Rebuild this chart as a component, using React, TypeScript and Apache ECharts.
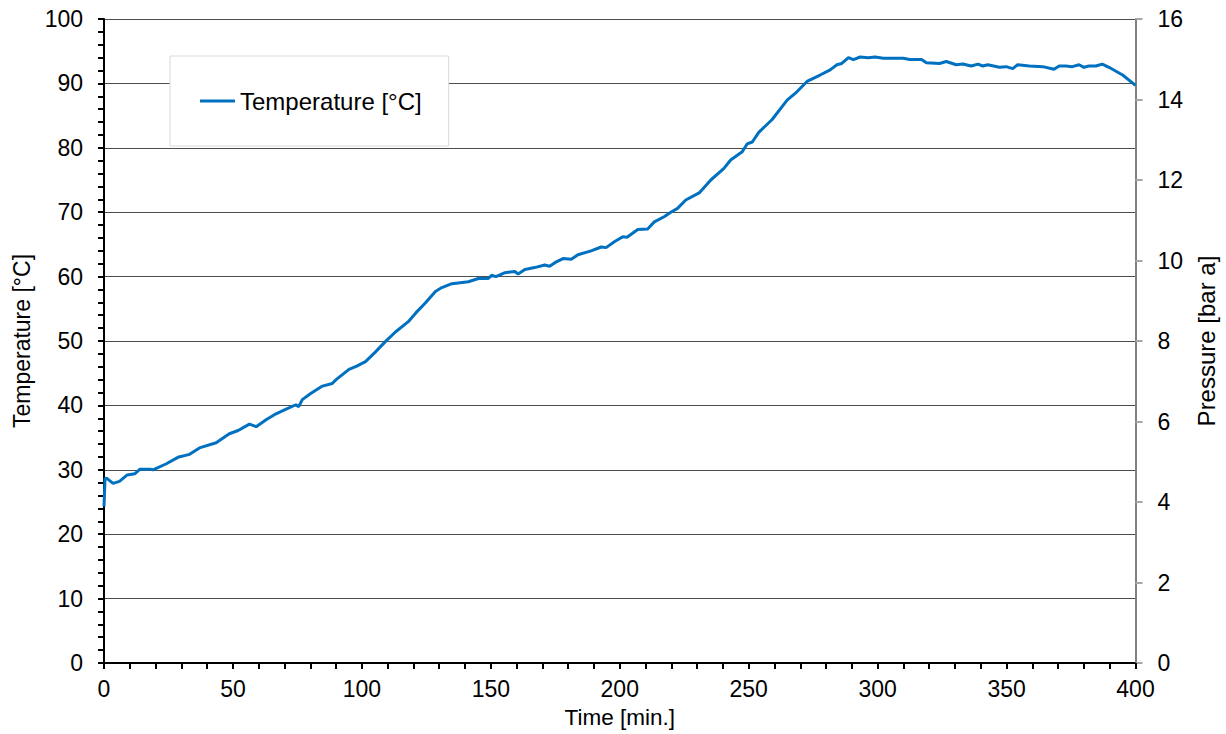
import React, { useEffect, useRef } from "react";
import * as echarts from "echarts";

const timeMin = [
  0, 0.4, 1, 3.5, 6, 9, 12, 14, 17.8, 19, 24, 29, 33.2, 37, 43.5, 48.6, 52, 56.4, 59, 63,
  66.7, 70, 74.4, 75.5, 76.9, 80, 84.7, 88.5, 90, 95, 98, 101.4, 105, 109.1, 113, 118, 121,
  124.6, 128.5, 131, 134.9, 141.3, 145.2, 149, 150.3, 152, 155.5, 159.3, 160.6, 163.2, 167,
  170.9, 172.8, 175, 178, 181.2, 183.8, 188.9, 192.8, 194.7, 197.9, 201.2, 202.8, 207, 210.8,
  213.4, 217.2, 219.8, 222.4, 225.6, 230.8, 235.3, 240.4, 243, 247.5, 249.4, 251.4, 253.9,
  259.1, 264.9, 268.7, 272.6, 277.7, 281.6, 284.2, 286.1, 288.7, 290.6, 293.2, 296.4, 299,
  302.2, 309.9, 312.5, 317, 318.9, 324, 326.6, 330.5, 333, 336.3, 338.9, 340.8, 342.7, 347.2,
  349.8, 352.4, 354.3, 358.8, 364, 368.4, 370.4, 372.9, 375.5, 378.1, 380, 382, 384.6, 387.1,
  389.7, 395, 400,
];

const temperatureC = [
  24.3, 28.6, 28.7, 27.9, 28.2, 29.2, 29.4, 30.1, 30.1, 30.0, 30.9, 32.0, 32.4, 33.4, 34.2,
  35.6, 36.1, 37.1, 36.7, 37.8, 38.7, 39.3, 40.1, 39.8, 40.9, 41.8, 43.0, 43.4, 44.0, 45.6,
  46.1, 46.8, 48.2, 49.9, 51.4, 53.0, 54.4, 55.9, 57.7, 58.3, 58.9, 59.2, 59.7, 59.7, 60.2,
  60.0, 60.6, 60.8, 60.4, 61.1, 61.4, 61.8, 61.6, 62.2, 62.8, 62.7, 63.4, 64.0, 64.6, 64.5,
  65.4, 66.2, 66.1, 67.3, 67.4, 68.5, 69.3, 70.0, 70.6, 71.9, 73.0, 75.0, 76.8, 78.1, 79.4,
  80.6, 80.9, 82.4, 84.4, 87.4, 88.7, 90.3, 91.3, 92.1, 92.9, 93.1, 94.0, 93.7, 94.1, 94.0,
  94.1, 93.9, 93.9, 93.7, 93.7, 93.2, 93.1, 93.4, 92.9, 93.0, 92.7, 93.0, 92.7, 92.9, 92.5,
  92.6, 92.3, 92.9, 92.7, 92.6, 92.2, 92.7, 92.7, 92.6, 92.9, 92.5, 92.7, 92.7, 93.0, 92.5,
  91.3, 89.7,
];

const seriesName = "Temperature [°C]";
const xAxisName = "Time [min.]";
const leftAxisName = "Temperature [°C]";
const rightAxisName = "Pressure [bar a]";

const FONT = "'Liberation Sans', Arial, sans-serif";
const TICK_FS = 23;
const NAME_FS = 23;

export default function App() {
  const ref = useRef<HTMLDivElement>(null);

  useEffect(() => {
    if (!ref.current) return;
    const chart = echarts.init(ref.current, undefined, { renderer: "svg" });
    const data = timeMin.map((t, i) => [t, temperatureC[i]]);
    chart.setOption({
      animation: false,
      backgroundColor: "#ffffff",
      textStyle: { fontFamily: FONT },
      grid: { left: 104, right: 86, top: 19, bottom: 71, containLabel: false },
      legend: {
        left: 170,
        top: 56,
        orient: "horizontal",
        padding: [33, 27, 33, 30],
        backgroundColor: "#ffffff",
        borderColor: "#d9d9d9",
        borderWidth: 1,
        itemWidth: 35,
        itemHeight: 14,
        textStyle: { fontFamily: FONT, fontSize: 24, color: "#000" },
        data: [{ name: seriesName, icon: "path://M0,6 L35,6 L35,9 L0,9 Z" }],
      },
      xAxis: {
        type: "value",
        min: 0,
        max: 400,
        interval: 50,
        name: xAxisName,
        nameLocation: "middle",
        nameGap: 43,
        nameTextStyle: { fontFamily: FONT, fontSize: 22.5, color: "#000" },
        axisLine: { show: true, onZero: false, lineStyle: { color: "#000", width: 2 } },
        axisTick: { show: true, inside: false, length: 6, lineStyle: { color: "#000", width: 2 } },
        minorTick: { show: true, splitNumber: 5, length: 6, lineStyle: { color: "#000", width: 2 } },
        axisLabel: { margin: 14, fontFamily: FONT, fontSize: TICK_FS, color: "#000" },
        splitLine: { show: false },
      },
      yAxis: [
        {
          type: "value",
          min: 0,
          max: 100,
          interval: 10,
          position: "left",
          name: leftAxisName,
          nameLocation: "middle",
          nameGap: 68,
          nameRotate: 90,
          nameTextStyle: { fontFamily: FONT, fontSize: NAME_FS, color: "#000" },
          axisLine: { show: true, lineStyle: { color: "#000", width: 2 } },
          axisTick: { show: true, inside: false, length: 6, lineStyle: { color: "#000", width: 2 } },
          minorTick: { show: true, splitNumber: 5, length: 6, lineStyle: { color: "#000", width: 2 } },
          axisLabel: { margin: 21, fontFamily: FONT, fontSize: TICK_FS, color: "#000" },
          splitLine: { show: true, lineStyle: { color: "#4d4d4d", width: 1.2 } },
        },
        {
          type: "value",
          min: 0,
          max: 16,
          interval: 2,
          position: "right",
          name: rightAxisName,
          nameLocation: "middle",
          nameGap: 55,
          nameRotate: 90,
          nameTextStyle: { fontFamily: FONT, fontSize: 24, color: "#000" },
          axisLine: { show: true, lineStyle: { color: "#808080", width: 2 } },
          axisTick: { show: true, inside: false, length: 7, lineStyle: { color: "#a6a6a6", width: 2 } },
          axisLabel: { margin: 22, fontFamily: FONT, fontSize: TICK_FS, color: "#000" },
          splitLine: { show: false },
        },
      ],
      series: [
        {
          name: seriesName,
          type: "line",
          yAxisIndex: 0,
          data,
          symbol: "none",
          showSymbol: false,
          lineStyle: { color: "#0070c0", width: 3 },
          itemStyle: { color: "#0070c0" },
        },
      ],
    });
    return () => chart.dispose();
  }, []);

  return (
    <div
      ref={ref}
      style={{ position: "fixed", left: 0, top: 0, width: 1226, height: 734 }}
    />
  );
}
